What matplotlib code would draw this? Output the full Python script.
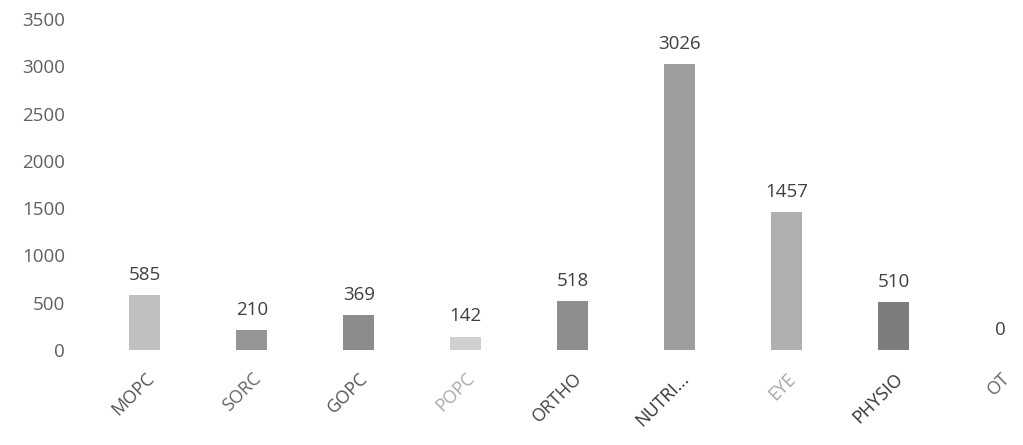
import matplotlib
matplotlib.use("Agg")
from matplotlib import pyplot as plt

clinics = ["MOPC", "SORC", "GOPC", "POPC", "ORTHO", "NUTRI...", "EYE", "PHYSIO", "OT"]
patients = [585, 210, 369, 142, 518, 3026, 1457, 510, 0]

bar_colors = ["#c0c0c0", "#959595", "#8c8c8c", "#d0d0d0", "#8e8e8e",
              "#9e9e9e", "#afafaf", "#7d7d7d", "#999999"]
tick_colors = ["#555555", "#666666", "#555555", "#aaaaaa", "#444444",
               "#333333", "#a5a5a5", "#333333", "#666666"]

plt.rcParams["font.family"] = ["Open Sans", "DejaVu Sans"]

fig = plt.figure(figsize=(10.23, 4.45), dpi=100)
ax = fig.add_axes([0.0894, 0.2135, 0.941, 0.744])

x = range(len(clinics))
bars = ax.bar(x, patients, width=0.29, color=bar_colors)

for rect, val in zip(bars, patients):
    ax.annotate(str(val), (rect.get_x() + rect.get_width() / 2, val),
                xytext=(0, 8), textcoords="offset points",
                ha="center", va="bottom", fontsize=13.5, color="#404040")

ax.set_xlim(-0.5, len(clinics) - 0.5)
ax.set_ylim(0, 3500)
ax.set_yticks(range(0, 3501, 500))
ax.tick_params(axis="y", length=0, labelsize=13.5, labelcolor="#606060", pad=19)
ax.set_xticks(list(x))
ax.set_xticklabels(clinics, rotation=45, ha="right", rotation_mode="anchor",
                   fontsize=13)
for lbl, c in zip(ax.get_xticklabels(), tick_colors):
    lbl.set_color(c)
ax.tick_params(axis="x", length=0, pad=14)
for spine in ax.spines.values():
    spine.set_visible(False)

fig.savefig("out.png", dpi=100)
